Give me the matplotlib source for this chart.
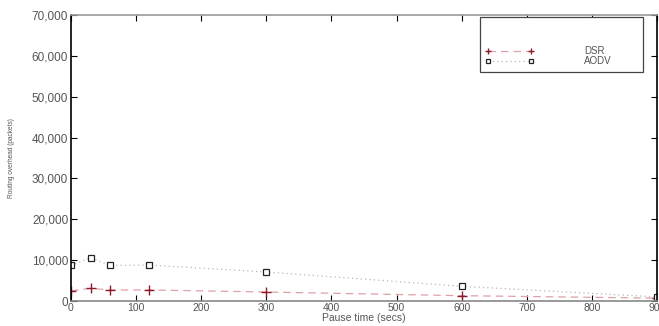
import matplotlib
matplotlib.use("Agg")
import matplotlib.pyplot as plt
from matplotlib.patches import Rectangle
from matplotlib.ticker import FuncFormatter

plt.rcParams['font.family'] = ['Liberation Sans', 'DejaVu Sans']

pause_time = [0, 30, 60, 120, 300, 600, 900]
dsr = [2500, 3100, 2700, 2700, 2200, 1300, 700]
aodv = [8700, 10600, 8700, 8800, 7100, 3600, 1000]
x_ticks = [0, 100, 200, 300, 400, 500, 600, 700, 800, 900]
y_ticks = [0, 10000, 20000, 30000, 40000, 50000, 60000, 70000]

fig = plt.figure(figsize=(6.59, 3.26), dpi=100)
ax = fig.add_axes([71/659, 1-301/326, (657-71)/659, (301-15)/326])

ax.plot(pause_time, dsr, linestyle=(0, (6, 4)), color='#e0a0a8', linewidth=0.9,
        marker='+', markersize=7, markeredgecolor='#8b1a2a', markeredgewidth=1.0, label='DSR')
ax.plot(pause_time, aodv, linestyle=(0, (1, 2.5)), color='#b8b8b8', linewidth=0.9,
        marker='s', markersize=4.5, markerfacecolor='white', markeredgecolor='#222222',
        markeredgewidth=0.9, label='AODV')

ax.set_xlim(0, 900)
ax.set_ylim(0, 70000)
ax.set_xticks(x_ticks)
ax.set_yticks(y_ticks)
ax.yaxis.set_major_formatter(FuncFormatter(lambda v, p: f"{int(v):,}"))
ax.tick_params(direction='in', length=4, width=0.8, labelcolor='#555555',
               top=True, right=True)
ax.tick_params(axis='y', labelsize=8.5, pad=2)
ax.tick_params(axis='x', labelsize=7.5, pad=1.5)
for s in ax.spines.values():
    s.set_linewidth(1.2)
ax.spines['top'].set_color('#999999')
ax.spines['bottom'].set_color('#888888')

ax.set_xlabel('Pause time (secs)', fontsize=7.5, color='#555555', labelpad=0)
ax.set_ylabel('Routing overhead (packets)', fontsize=4.7, color='#555555')
ax.yaxis.set_label_coords((15 - 71) / 586, 0.5)

# legend box (MATLAB style with empty upper area)
rect = Rectangle((480/659, 1-72/326), (643-480)/659, (72-17)/326, transform=fig.transFigure,
                 facecolor='white', edgecolor='#444444', linewidth=0.9, zorder=5)
fig.patches.append(rect)
leg = fig.legend(loc='upper left', bbox_to_anchor=(485/659, 1-46/326), frameon=False,
                 fontsize=7, numpoints=2, handlelength=5.0, labelspacing=0.05,
                 handletextpad=5.2, borderpad=0, borderaxespad=0)
leg.set_zorder(6)
for t in leg.get_texts():
    t.set_color('#555555')
for h in leg.legend_handles:
    h.set_markersize(5 if h.get_marker() == '+' else 3.5)

fig.savefig('out.png', dpi=100)
